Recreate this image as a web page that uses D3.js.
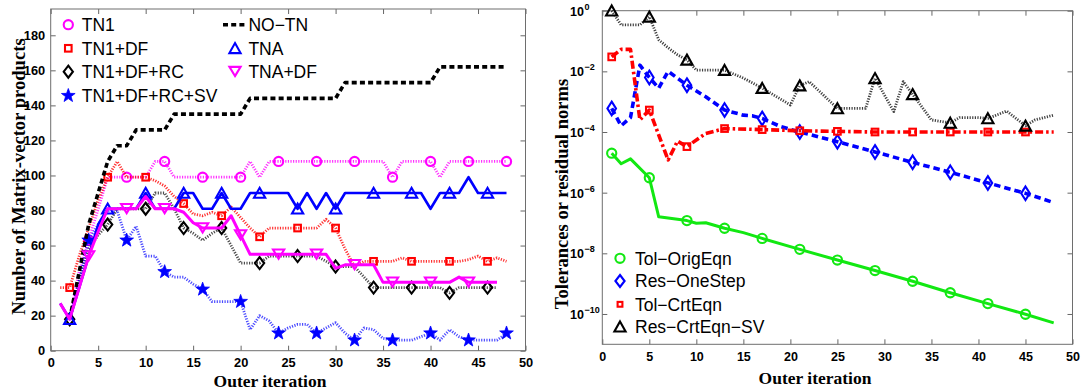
<!DOCTYPE html>
<html>
<head>
<meta charset="utf-8">
<script src="https://cdn.jsdelivr.net/npm/d3@7"></script>
<style>
  body { margin: 0; background: #fff; }
  svg { display: block; }
  .tick text { font-family: "Liberation Sans", Arial, sans-serif; font-weight: bold; fill: #000; }
  .tick line { stroke: #666; }
  .legend text { font-family: "Liberation Sans", Arial, sans-serif; font-size: 17.5px; fill: #000; }
  .axis-title { font-family: "Liberation Serif", "Times New Roman", serif; font-weight: bold; fill: #000; }
</style>
</head>
<body>
<svg id="chart" width="1086" height="392"></svg>
<script>
// ---------------- Left panel: number of matrix-vector products ----------------
const xTicksLeft = [0, 5, 10, 15, 20, 25, 30, 35, 40, 45, 50];
const yTicksLeft = [0, 20, 40, 60, 80, 100, 120, 140, 160, 180];

// first outer iteration of every series, then one value per iteration
const noTnStart = 2;
const noTn = [18, 45, 72, 90, 108, 117, 117, 126, 126, 126, 126,
  135, 135, 135, 135, 135, 135, 135, 135,
  144, 144, 144, 144, 144, 144, 144, 144, 144, 144,
  153, 153, 153, 153, 153, 153, 153, 153, 153, 153,
  162, 162, 162, 162, 162, 162, 162, 162];

const tn1Start = 2;
const tn1 = [18, 45, 63, 81, 99, 99, 99, 99, 99,           // 2-10
  108, 108, 99, 99, 99, 99, 99, 99, 99, 99,                 // 11-20
  108, 99, 108, 108, 108, 108, 108, 108, 108, 108,          // 21-30
  108, 108, 108, 108, 108, 99, 108, 108, 108, 108,          // 31-40
  99, 108, 108, 108, 108, 108, 108, 108];                   // 41-48

const tn1DfStart = 1;
const tn1Df = [36, 36, 54, 70, 86, 99, 108, 99, 99, 99,     // 1-10
  97, 94, 88, 84, 78, 77, 79, 77, 82, 76,                   // 11-20
  70, 65, 70, 70, 70, 70, 70, 70, 75, 70,                   // 21-30
  58, 48, 51, 51, 51, 51, 53, 51, 51, 51,                   // 31-40
  51, 51, 51, 52, 54, 51, 53, 51];                          // 41-48

const tn1DfRcStart = 2;
const tn1DfRc = [18, 40, 58, 66, 72, 81, 81, 81, 81,        // 2-10
  90, 90, 81, 70, 67, 63, 67, 70, 60, 50,                   // 11-20
  50, 50, 54, 54, 54, 54, 54, 54, 51, 48,                   // 21-30
  48, 48, 42, 36, 36, 36, 36, 36, 36, 36,                   // 31-40
  36, 33, 36, 36, 36, 36, 36];                              // 41-47

const tn1DfRcSvStart = 2;
const tn1DfRcSv = [18, 40, 63, 72, 80, 80, 63, 71, 54,      // 2-10
  54, 45, 42, 42, 38, 35, 28, 28, 28, 28,                   // 11-20
  12, 20, 17, 10, 13, 15, 15, 10, 13, 16,                   // 21-30
  10, 6, 13, 12, 7, 6, 6, 6, 8, 10,                         // 31-40
  6, 12, 8, 6, 6, 6, 6, 10];                                // 41-48

const tnaStart = 1;
const tna = [27, 18, 36, 54, 72, 81, 81, 81, 81, 90,        // 1-10
  81, 81, 81, 90, 90, 81, 81, 90, 81, 81,                   // 11-20
  90, 90, 90, 90, 90, 81, 90, 81, 90, 81,                   // 21-30
  90, 90, 90, 90, 90, 90, 90, 90, 90, 81,                   // 31-40
  90, 90, 90, 99, 90, 90, 90, 90];                          // 41-48

const tnaDfStart = 1;
const tnaDf = [27, 18, 36, 54, 68, 81, 81, 81, 81, 88,      // 1-10
  81, 81, 81, 79, 73, 70, 70, 70, 77, 66,                   // 11-20
  55, 55, 55, 55, 55, 55, 55, 55, 55, 47,                   // 21-30
  49, 49, 49, 49, 39, 39, 39, 39, 39, 39,                   // 31-40
  39, 39, 42, 39, 39, 39, 39];                              // 41-47

// ---------------- Right panel: tolerances and residual norms ----------------
const xTicksRight = [0, 5, 10, 15, 20, 25, 30, 35, 40, 45, 50];
const yTicksRight = [1, 1e-2, 1e-4, 1e-6, 1e-8, 1e-10];
const yTickExpRight = ["0", "\u22122", "\u22124", "\u22126", "\u22128", "\u221210"];

const tolOrigIter = [1, 2, 3, 5, 6, 9, 10, 11, 13, 15, 17, 21, 25, 29, 33, 37, 41, 45, 48];
const tolOrig = [2e-5, 9e-6, 1.3e-5, 3.1e-6, 1.6e-7, 1.2e-7, 9.8e-8, 1.02e-7, 6.7e-8, 4.8e-8,
  3.1e-8, 1.35e-8, 6e-9, 2.7e-9, 1.2e-9, 5e-10, 2.2e-10, 9.8e-11, 5.1e-11];

const resOneIter = [1, 2, 3, 4, 5, 6, 7, 9, 11, 13, 15, 16, 17, 19, 21, 25, 29, 33, 37, 41, 45, 48];
const resOne = [6e-4, 1.6e-4, 3e-4, 1.6e-2, 6.3e-3, 2.8e-3, 1.0e-2, 3.5e-3, 1.45e-3, 5.3e-4,
  3.6e-4, 3.4e-4, 2.8e-4, 1.5e-4, 1.0e-4, 4.8e-5, 2.2e-5, 1e-5, 4.7e-6, 2.1e-6, 9.5e-7, 4.7e-7];

const tolCrtIter = [1, 2, 3, 4, 5, 7, 8, 9, 11, 13, 17, 21, 25, 29, 33, 37, 41, 45, 48];
const tolCrt = [3.0e-2, 5.3e-2, 5.3e-2, 2.5e-4, 5.3e-4, 1.2e-5, 5e-5, 3.3e-5, 9e-5, 1.3e-4,
  1.2e-4, 1.1e-4, 1.05e-4, 1.0e-4, 1.0e-4, 1.0e-4, 1.0e-4, 1.0e-4, 1.0e-4];

const resSvIter = [1, 2, 4, 5, 6, 7, 8, 9, 10, 11, 13, 15, 17, 20, 21, 22, 25, 28, 29, 31,
  32, 33, 35, 37, 38, 40, 41, 43, 45, 46, 48];
const resSv = [1.0, 0.34, 0.34, 0.63, 0.11, 0.06, 0.035, 0.024, 0.011, 0.011,
  0.011, 0.006, 0.0028, 7.8e-4, 3.4e-3, 4.6e-3, 6e-4, 6e-4, 5.9e-3, 4.7e-4,
  4.6e-3, 1.75e-3, 2.5e-4, 2e-4, 3e-4, 3e-4, 2.8e-4, 4.9e-4, 1.6e-4, 2.5e-4, 3.6e-4];

// ------------------------------------------------------------------------------
const svg = d3.select("#chart");

const MAGENTA = "#ff00ff", RED = "#ff0000", BLUE = "#0000ff", BLACK = "#000000", GREEN = "#12e812";

// marker shapes, drawn centred on (0,0)
const shapes = {
  circle: g => g.append("circle").attr("r", 4.6),
  square: g => g.append("rect").attr("x", -3.3).attr("y", -3.3).attr("width", 6.6).attr("height", 6.6),
  squareSmall: g => g.append("rect").attr("x", -2.4).attr("y", -2.4).attr("width", 4.8).attr("height", 4.8),
  diamond: g => g.append("path").attr("d", "M0,-6L4.6,0L0,6L-4.6,0Z"),
  diamondTall: g => g.append("path").attr("d", "M0,-6.8L4.3,0L0,6.8L-4.3,0Z"),
  triUp: g => g.append("path").attr("d", "M0,-5.2L5.6,4.8L-5.6,4.8Z"),
  triDown: g => g.append("path").attr("d", "M0,4.4L5.6,-4.8L-5.6,-4.8Z"),
  star: g => {
    const pts = d3.range(10).map(i => {
      const r = i % 2 ? 2.9 : 7.2, a = -Math.PI / 2 + i * Math.PI / 5;
      return [r * Math.cos(a), r * Math.sin(a)];
    });
    return g.append("path").attr("d", "M" + pts.join("L") + "Z");
  }
};

function drawMarker(parent, shape, color, x, y, filled) {
  const g = parent.append("g").attr("transform", `translate(${x},${y})`);
  const el = shapes[shape](g);
  el.attr("fill", filled ? color : "none")
    .attr("stroke", color)
    .attr("stroke-width", filled ? 0.8 : 2.1)
    .attr("stroke-linejoin", "miter");
  return g;
}

const dotted = { width: 2.8, dash: "1.2,1.4", opacity: 0.8 };

function drawSeries(parent, pts, x, y, style, marker) {
  const line = d3.line().x(d => x(d[0])).y(d => y(d[1]));
  parent.append("path")
    .datum(pts)
    .attr("d", line)
    .attr("fill", "none")
    .attr("stroke", style.color)
    .attr("stroke-width", style.width)
    .attr("stroke-dasharray", style.dash || null)
    .attr("stroke-opacity", style.opacity || 1)
    .attr("stroke-linejoin", "round");
  if (marker) {
    pts.filter(d => marker.at(d[0])).forEach(d =>
      drawMarker(parent, marker.shape, style.color, x(d[0]), y(d[1]), marker.filled));
  }
}

function seq(start, values) { return values.map((v, i) => [start + i, v]); }
function pairs(iters, values) { return iters.map((it, i) => [it, values[i]]); }

function frameAndTicks(box, x, y, xTicks, yTicks, yFormat, padY, padX) {
  const g = svg.append("g");
  g.append("g").attr("transform", `translate(0,${box.y1})`)
    .call(d3.axisBottom(x).tickValues(xTicks).tickSize(-5).tickSizeOuter(0).tickPadding(padX).tickFormat(d3.format("d")));
  g.append("g").attr("transform", `translate(0,${box.y0})`)
    .call(d3.axisTop(x).tickValues(xTicks).tickSize(-5).tickSizeOuter(0).tickFormat(""));
  g.append("g").attr("transform", `translate(${box.x0},0)`)
    .call(d3.axisLeft(y).tickValues(yTicks).tickSize(-5).tickSizeOuter(0).tickPadding(padY).tickFormat(yFormat));
  g.append("g").attr("transform", `translate(${box.x1},0)`)
    .call(d3.axisRight(y).tickValues(yTicks).tickSize(-5).tickSizeOuter(0).tickFormat(""));
  g.selectAll(".domain").remove();
  g.selectAll(".tick line").attr("stroke", "#6e6e6e");
  svg.append("rect")
    .attr("x", box.x0).attr("y", box.y0)
    .attr("width", box.x1 - box.x0).attr("height", box.y1 - box.y0)
    .attr("fill", "none").attr("stroke", "#6e6e6e").attr("stroke-width", 1);
  return g;
}

// ================= Left panel =================
const boxL = { x0: 50.7, x1: 525.5, y0: 9, y1: 350.7 };
const xL = d3.scaleLinear().domain([0, 50]).range([boxL.x0, boxL.x1]);
const yL = d3.scaleLinear().domain([0, 195]).range([boxL.y1, boxL.y0]);

const axL = frameAndTicks(boxL, xL, yL, xTicksLeft, yTicksLeft, d3.format("d"), 5.5, 7.5);
axL.selectAll(".tick text").style("font-size", "12.8px");

const plotL = svg.append("g");
drawSeries(plotL, seq(tn1Start, tn1), xL, yL, { color: MAGENTA, ...dotted },
  { shape: "circle", at: it => it % 4 === 0 });
drawSeries(plotL, seq(tn1DfStart, tn1Df), xL, yL, { color: RED, ...dotted },
  { shape: "square", at: it => it % 4 === 2 });
drawSeries(plotL, seq(tn1DfRcStart, tn1DfRc), xL, yL, { color: BLACK, ...dotted, opacity: 0.7 },
  { shape: "diamond", at: it => it % 4 === 2 });
drawSeries(plotL, seq(tn1DfRcSvStart, tn1DfRcSv), xL, yL, { color: BLUE, ...dotted, opacity: 0.7 },
  { shape: "star", filled: true, at: it => it % 4 === 0 });
drawSeries(plotL, seq(noTnStart, noTn), xL, yL, { color: BLACK, width: 3.6, dash: "5,3.2" }, null);
drawSeries(plotL, seq(tnaStart, tna), xL, yL, { color: BLUE, width: 2.6 },
  { shape: "triUp", at: it => it % 4 === 2 });
drawSeries(plotL, seq(tnaDfStart, tnaDf), xL, yL, { color: MAGENTA, width: 3 },
  { shape: "triDown", at: it => it % 4 === 0 && it <= 44 });

// left legend
const legL = svg.append("g").attr("class", "legend");
const legLeftRows = [
  { label: "TN1", shape: "circle", color: MAGENTA, x: 68.3, y: 24.7 },
  { label: "TN1+DF", shape: "square", color: RED, x: 68.3, y: 48.3 },
  { label: "TN1+DF+RC", shape: "diamond", color: BLACK, x: 68.3, y: 71.7 },
  { label: "TN1+DF+RC+SV", shape: "star", color: BLUE, x: 68.3, y: 95.7, filled: true },
  { label: "NO\u2212TN", line: true, color: BLACK, x: 235, y: 24.7 },
  { label: "TNA", shape: "triUp", color: BLUE, x: 235, y: 48.3 },
  { label: "TNA+DF", shape: "triDown", color: MAGENTA, x: 235, y: 71.7 }
];
legLeftRows.forEach(r => {
  if (r.line) {
    legL.append("line").attr("x1", r.x - 12).attr("x2", r.x + 12).attr("y1", r.y).attr("y2", r.y)
      .attr("stroke", r.color).attr("stroke-width", 3.6).attr("stroke-dasharray", "5,3.2");
  } else {
    drawMarker(legL, r.shape, r.color, r.x, r.y, r.filled);
  }
  legL.append("text").attr("x", r.x + 13.4).attr("y", r.y + 6.2).text(r.label);
});

svg.append("text").attr("class", "axis-title")
  .attr("transform", "translate(25,176.5) rotate(-90)")
  .attr("text-anchor", "middle").style("font-size", "18.6px")
  .text("Number of Matrix-vector products");
svg.append("text").attr("class", "axis-title")
  .attr("x", 270).attr("y", 386.5)
  .attr("text-anchor", "middle").style("font-size", "17.5px")
  .text("Outer iteration");

// ================= Right panel =================
const boxR = { x0: 602.3, x1: 1072.5, y0: 10.7, y1: 344.3 };
const xR = d3.scaleLinear().domain([0, 50]).range([boxR.x0, boxR.x1]);
const yR = d3.scaleLog().domain([1e-11, 1]).range([boxR.y1, boxR.y0]);

const axR = frameAndTicks(boxR, xR, yR, xTicksRight, yTicksRight, () => "", 0, 8);
axR.selectAll(".tick text").style("font-size", "12.5px");

// power-of-ten labels: base "10" with a raised exponent
const yLab = svg.append("g").attr("class", "tick");
yTicksRight.forEach((t, i) => {
  const yy = yR(t);
  yLab.append("text").attr("x", 584).attr("y", yy + 5).attr("text-anchor", "end")
    .style("font-size", "12.5px").text("10");
  yLab.append("text").attr("x", 584.5).attr("y", yy - 1).attr("text-anchor", "start")
    .style("font-size", "9px").text(yTickExpRight[i]);
});

const plotR = svg.append("g");
drawSeries(plotR, pairs(tolOrigIter, tolOrig), xR, yR, { color: GREEN, width: 3 },
  { shape: "circle", at: it => it % 4 === 1 });
drawSeries(plotR, pairs(resOneIter, resOne), xR, yR, { color: BLUE, width: 3.6, dash: "6.5,4" },
  { shape: "diamondTall", at: it => it % 4 === 1 });
drawSeries(plotR, pairs(tolCrtIter, tolCrt), xR, yR, { color: RED, width: 3.6, dash: "8,3,2.5,3" },
  { shape: "square", at: it => it % 4 === 1 });
drawSeries(plotR, pairs(resSvIter, resSv), xR, yR, { color: BLACK, ...dotted, opacity: 0.75 },
  { shape: "triUp", at: it => it % 4 === 1 });

// right legend
const legR = svg.append("g").attr("class", "legend");
const legRightRows = [
  { label: "Tol\u2212OrigEqn", shape: "circle", color: GREEN, y: 258.3 },
  { label: "Res\u2212OneStep", shape: "diamond", color: BLUE, y: 281 },
  { label: "Tol\u2212CrtEqn", shape: "squareSmall", color: RED, y: 304.3 },
  { label: "Res\u2212CrtEqn\u2212SV", shape: "triUp", color: BLACK, y: 326.7 }
];
legRightRows.forEach(r => {
  drawMarker(legR, r.shape, r.color, 620, r.y, false);
  legR.append("text").attr("x", 635).attr("y", r.y + 6.2).text(r.label);
});

svg.append("text").attr("class", "axis-title")
  .attr("transform", "translate(568,194) rotate(-90)")
  .attr("text-anchor", "middle").style("font-size", "18.6px")
  .text("Tolerances or residual norms");
svg.append("text").attr("class", "axis-title")
  .attr("x", 815).attr("y", 384)
  .attr("text-anchor", "middle").style("font-size", "17.5px")
  .text("Outer iteration");
</script>
</body>
</html>
